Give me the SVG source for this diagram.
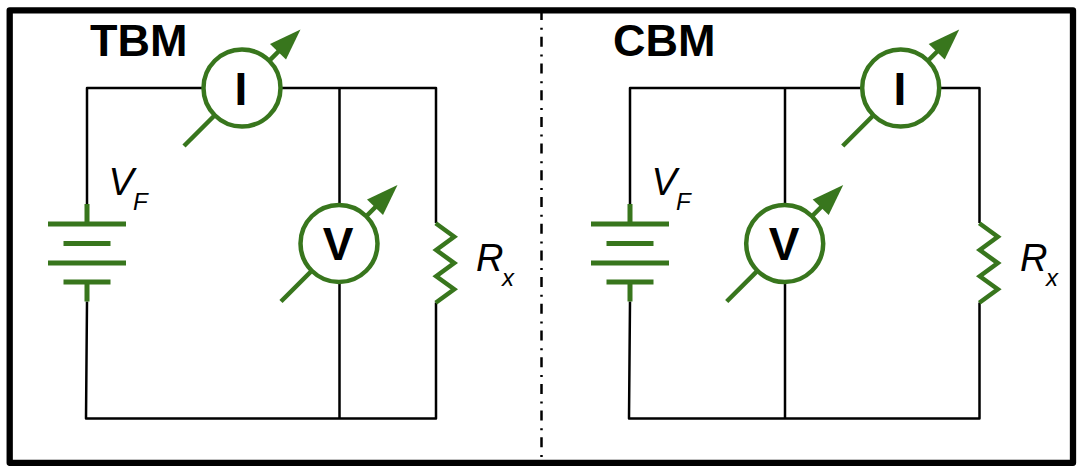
<svg xmlns="http://www.w3.org/2000/svg" width="1083" height="474" viewBox="0 0 1083 474">
<style>
.wire{fill:none;stroke:#000;stroke-width:2.5;stroke-linejoin:round}
.g{fill:none;stroke:#38761d;stroke-width:4.5}
.bat{fill:none;stroke:#38761d;stroke-width:5}
.ring{fill:#fff;stroke:#38761d;stroke-width:4.5}
.head{fill:#38761d;stroke:none}
.b{font-family:"Liberation Sans",Arial,sans-serif;font-weight:bold;fill:#000}
.t{font-size:45px}
.m{font-size:46px;text-anchor:middle}
.i{font-family:"Liberation Sans",Arial,sans-serif;font-style:italic;fill:#000}
.l{font-size:38px}
.s{font-size:24px}
</style>
<defs>
<g id="battery">
<path class="bat" d="M0 -20V0M-39 0H39M-23.500 19.500H23.500M-39 39H39M-23.500 58H23.500M0 58V77.500"/>
</g>
<path id="resistor" class="g" d="M0 0L18.500 13.400L0.500 26.700L18.500 39.800L0.500 52.900L18.500 66L0 79.400"/>
<g id="meter">
<path class="g" d="M-58 58L52 -52"/>
<circle class="ring" r="38.500"/>
<path class="head" d="M58.500 -58.500L28 -44L44 -28.500Z"/>
</g>
</defs>
<rect width="1083" height="474" fill="#fff"/>
<g id="divider"><path d="M541.500 10.100V459" fill="none" stroke="#000" stroke-width="2.500" stroke-dasharray="10 7.700 2 7"/></g>
<g id="frame"><rect x="9.700" y="10.300" width="1063.300" height="452.500" fill="none" stroke="#000" stroke-width="6.300" stroke-linejoin="round"/></g>
<g id="connectors">
<path class="wire" d="M87 204V88H436V223M436 302.400V418.500H86L87 301.500M339.500 88V418.500"/>
<path class="wire" d="M630 204V88H979.500V223M979.500 302.400V418.500H629L630 301.500M785 88V418.500"/>
</g>
<g id="tbm-title"><text class="b t" x="90" y="56">TBM</text></g>
<g id="tbm-battery"><use href="#battery" x="87" y="224"/><text class="i l" x="108.500" y="195">V</text><text class="i s" x="133" y="210">F</text></g>
<g id="tbm-ammeter"><use href="#meter" x="242" y="88"/><text class="b m" x="241" y="105">I</text></g>
<g id="tbm-voltmeter"><use href="#meter" x="339" y="243.500"/><text class="b m" x="338" y="260">V</text></g>
<g id="tbm-resistor"><use href="#resistor" x="435.700" y="223.300"/><text class="i l" x="476" y="271">R</text><text class="i s" x="502" y="286">x</text></g>
<g id="cbm-title"><text class="b t" x="613" y="56">CBM</text></g>
<g id="cbm-battery"><use href="#battery" x="630" y="224"/><text class="i l" x="651.500" y="195">V</text><text class="i s" x="676" y="210">F</text></g>
<g id="cbm-ammeter"><use href="#meter" x="900.700" y="88"/><text class="b m" x="900" y="105">I</text></g>
<g id="cbm-voltmeter"><use href="#meter" x="784.700" y="243.500"/><text class="b m" x="784" y="260">V</text></g>
<g id="cbm-resistor"><use href="#resistor" x="979.300" y="223.300"/><text class="i l" x="1020" y="271">R</text><text class="i s" x="1046" y="286">x</text></g>
</svg>
